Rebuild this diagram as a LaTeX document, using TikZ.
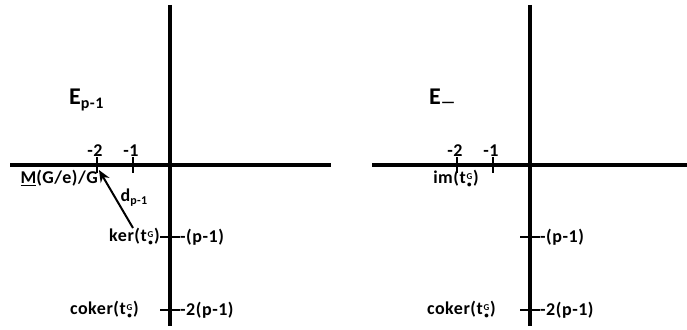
\documentclass[tikz,border=0pt]{standalone}
\usepackage{fontspec}
\setmainfont{Carlito}[LetterSpace=3]
\usetikzlibrary{arrows.meta}
\newcommand{\tGb}{t\kern0.8pt\raisebox{-4pt}{\fontsize{9}{8}\selectfont\bfseries\shortstack{G\\[1pt]•}}\kern0.8pt}
\begin{document}
\begin{tikzpicture}[x=1pt,y=-1pt,
  axis/.style={line width=4.5pt},
  tickmark/.style={line width=2.5pt},
  lab/.style={font=\fontsize{18}{20}\selectfont\bfseries, inner sep=0pt},
  big/.style={font=\fontsize{24}{26}\selectfont\bfseries, inner sep=0pt},
  diff/.style={line width=2pt,-{Stealth[length=12pt,width=10pt]}}]
\useasboundingbox (0,0) rectangle (687,329);
% ---------- left diagram ----------
\coordinate (LxA) at (10,165);
\coordinate (LxB) at (331,165);
\coordinate (LyA) at (170,5);
\coordinate (LyB) at (170,326);
\draw[axis] (LxA) -- (LxB);
\draw[axis] (LyA) -- (LyB);
\coordinate (Lt2a) at (97,157); \coordinate (Lt2b) at (97,173);
\coordinate (Lt1a) at (133,157); \coordinate (Lt1b) at (133,173);
\draw[tickmark] (Lt2a) -- (Lt2b);
\draw[tickmark] (Lt1a) -- (Lt1b);
\coordinate (Lk1a) at (160,237); \coordinate (Lk1b) at (180,237);
\coordinate (Lk2a) at (160,310); \coordinate (Lk2b) at (180,310);
\draw[tickmark] (Lk1a) -- (Lk1b);
\draw[tickmark] (Lk2a) -- (Lk2b);
\node[big, anchor=base west] (Ep) at (69,104) {E\raisebox{-4pt}{\fontsize{16}{16}\selectfont\bfseries p-1}};
\node[lab] (Lm2) at (95,151) {-2};
\node[lab] (Lm1) at (131,151) {-1};
\node[lab, anchor=east] (M) at (98,178) {\underline{M}(G/e)/G};
\node[lab, anchor=east] (ker) at (160,237) {ker(\tGb)};
\node[lab, anchor=west] (Lp1) at (180,237) {-(p-1)};
\node[lab, anchor=east] (Lcok) at (139,310) {coker(\tGb)};
\node[lab, anchor=west] (Lp2) at (180,310) {-2(p-1)};
\node[lab] (d) at (134,198) {d\raisebox{-3pt}{\fontsize{12}{12}\selectfont\bfseries p-1}};
\coordinate (tip) at (99,170);
\coordinate (src) at (133,228);
\draw[diff] (src) -- (tip);
% ---------- right diagram ----------
\coordinate (RxA) at (372,165);
\coordinate (RxB) at (687,165);
\coordinate (RyA) at (530,5);
\coordinate (RyB) at (530,326);
\draw[axis] (RxA) -- (RxB);
\draw[axis] (RyA) -- (RyB);
\coordinate (Rt2a) at (457,157); \coordinate (Rt2b) at (457,173);
\coordinate (Rt1a) at (493,157); \coordinate (Rt1b) at (493,173);
\draw[tickmark] (Rt2a) -- (Rt2b);
\draw[tickmark] (Rt1a) -- (Rt1b);
\coordinate (Rk1a) at (520,237); \coordinate (Rk1b) at (540,237);
\coordinate (Rk2a) at (520,310); \coordinate (Rk2b) at (540,310);
\draw[tickmark] (Rk1a) -- (Rk1b);
\draw[tickmark] (Rk2a) -- (Rk2b);
\node[big, anchor=base west] (Em) at (429,104) {E\raisebox{-3pt}{\fontsize{16}{16}\selectfont\bfseries —}};
\node[lab] (Rm2) at (455,151) {-2};
\node[lab] (Rm1) at (491,151) {-1};
\node[lab] (im) at (456,179) {im(\tGb)};
\node[lab, anchor=west] (Rp1) at (540,237) {-(p-1)};
\node[lab, anchor=east] (Rcok) at (496,310) {coker(\tGb)};
\node[lab, anchor=west] (Rp2) at (540,310) {-2(p-1)};
\end{tikzpicture}
\end{document}
